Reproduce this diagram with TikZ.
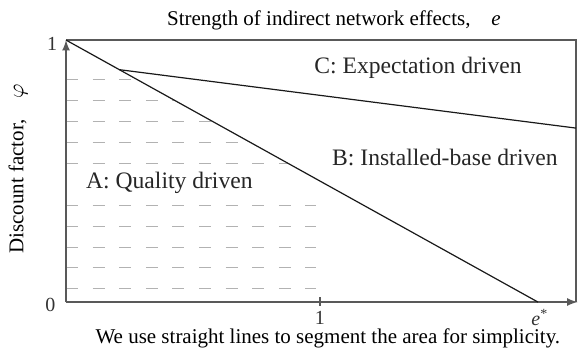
\documentclass[tikz,border=0pt]{standalone}
\usepackage{fontspec}
\setmainfont{Liberation Serif}
\usetikzlibrary{arrows,positioning}

\tikzset{
  axis/.style={draw=black!65, line width=0.8pt},
  border/.style={draw=black!65, line width=0.7pt},
  split/.style={draw=black!90, line width=0.6pt},
  hatch/.style={draw=black!30, line width=0.5pt, dash pattern=on 6pt off 7.3pt},
  region/.style={font=\fontsize{11.8}{14}\selectfont, text=black!85},
  tick/.style={font=\fontsize{10}{12}\selectfont, text=black!80, inner sep=1pt},
}

\begin{document}
\begin{tikzpicture}
      [x=127pt, y=131pt, font=\fontsize{10.5}{12.5}\selectfont]
      \useasboundingbox (-0.26,-0.206) rectangle (2.016,1.153);

      \coordinate (origin) at (0,0);
      \coordinate (one)    at (0,1);
      \coordinate (estar)  at (1.858,0);
      \coordinate (xend)   at (2.014,0);
      \coordinate (ne)     at (2.008,1);
      \coordinate (se)     at (2.008,0);
      \coordinate (meet)   at (0.21,0.887);
      \coordinate (cright) at (2.008,0.664);
      \coordinate (tickb)  at (1,-0.015);
      \coordinate (ticka)  at (1,0.02);

      % dashed lines filling region A
      \foreach \p in {0.05,0.13,0.21,0.29,0.37,0.53,0.61,0.69,0.77,0.85}
      {
        \pgfmathsetmacro{\ex}{min(0.985,1.858*(1-\p))}
        \draw [hatch] (0,\p) -- (\ex,\p);
      }

      \draw [axis, -latex] (origin) to (one);
      \draw [axis, -latex] (origin) to (xend);
      \draw [border] (one) to (ne) to (se);
      \draw [axis] (tickb) to (ticka);

      \draw [split] (one)  to (estar);
      \draw [split] (meet) to (cright);

      \node (qual)   at (0.407,0.454) [region] {A: Quality driven};
      \node (inst)   at (1.492,0.553) [region] {B: Installed-base driven};
      \node (expect) at (1.386,0.893) [region] {C: Expectation driven};

      \node (yone)  at (-0.055,0.985) [tick] {1};
      \node (yzero) at (-0.062,-0.012) [tick] {0};
      \node (xone)  at (1,-0.062) [tick] {1};
      \node (xstar) at (1.866,-0.058) [tick] {\textit{e}\textsuperscript{*}};

      \node (xlabel) at (1.055,1.076) {Strength of indirect network effects,\quad\textit{e}};
      \node [rotate=90] (ylabel) at (-0.189,0.508) {Discount factor,\quad$\varphi$};
      \node [inner sep=1pt] (caption) at (1.031,-0.138) {We use straight lines to segment the area for simplicity.};
    \end{tikzpicture}
\end{document}
